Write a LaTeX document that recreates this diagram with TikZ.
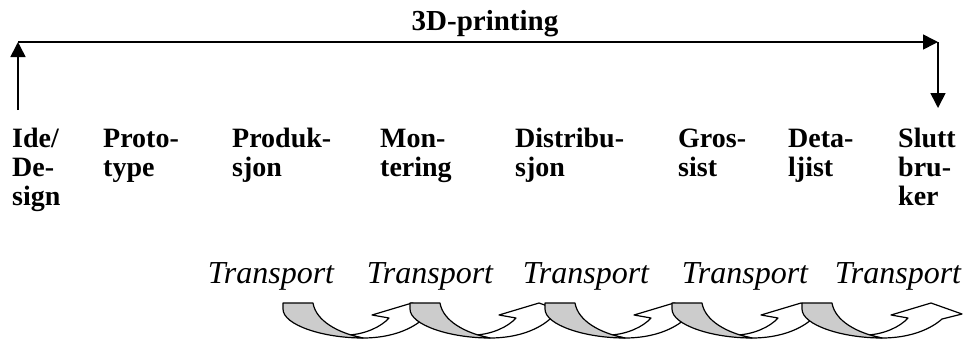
\documentclass[tikz,border=0pt]{standalone}
\usepackage{fontspec}
\setmainfont{Liberation Serif}
\usetikzlibrary{arrows.meta}
\definecolor{bandgray}{gray}{0.8}
\tikzset{
  stage/.style={anchor=north west,inner sep=0,align=left,font=\bfseries\fontsize{28}{29}\selectfont},
  trans/.style={inner sep=0,font=\itshape\fontsize{32}{32}\selectfont},
  flow/.style={line width=1.6pt,-{Triangle[length=15pt,width=15pt]}},
  uarrow/.style={draw=black,line width=1.2pt,line join=round}
}
\begin{document}
\begin{tikzpicture}[x=1pt,y=-1pt]
        \useasboundingbox (0,0) rectangle (966,338);
        %\draw [very thin, green]  (0,0) grid[step=50] (966,338);
        \node at (485,24) [font=\bfseries\fontsize{29}{29}\selectfont,inner sep=0] (title) {3D-printing};

        \coordinate (bot) at (18,110);
        \coordinate (tl) at (18,42);
        \coordinate (tr) at (938,42);
        \coordinate (end) at (938,108);

        \draw [flow] (bot) -- (tl);
        \draw [flow] (tl) -- (tr);
        \draw [flow] (tr) -- (end);

        \node at (12,127) [stage] (ide) {\strut Ide/\\De-\\sign};
        \node at (103,127) [stage] (proto) {\strut Proto-\\type};
        \node at (232,127) [stage] (prod) {\strut Produk-\\sjon};
        \node at (380,127) [stage] (mont) {\strut Mon-\\tering};
        \node at (515,127) [stage] (dist) {\strut Distribu-\\sjon};
        \node at (678,127) [stage] (gros) {\strut Gros-\\sist};
        \node at (788,127) [stage] (deta) {\strut Deta-\\ljist};
        \node at (898,127) [stage] (slutt) {\strut Slutt\\bru-\\ker};

        \foreach \x [count=\i] in {271,430,586,745,898}
            \node at (\x,276) [trans] (t\i) {Transport};

        \foreach \x in {283,410,545,672,802}{
            \begin{scope}[shift={(\x,303)}]
                \draw [uarrow,fill=white] (80,35) .. controls (110,35) and (130,25) .. (140,16) -- (160,11) -- (129,0) -- (89,12) -- (106,15) .. controls (98,24) and (82,31) .. (66,32) -- cycle;
                \draw [uarrow,fill=bandgray] (0,0) -- (30,0) .. controls (33,18) and (55,30) .. (80,35) .. controls (40,35) and (0,22) .. (0,6) -- cycle;
            \end{scope}
        }
    \end{tikzpicture}
\end{document}
